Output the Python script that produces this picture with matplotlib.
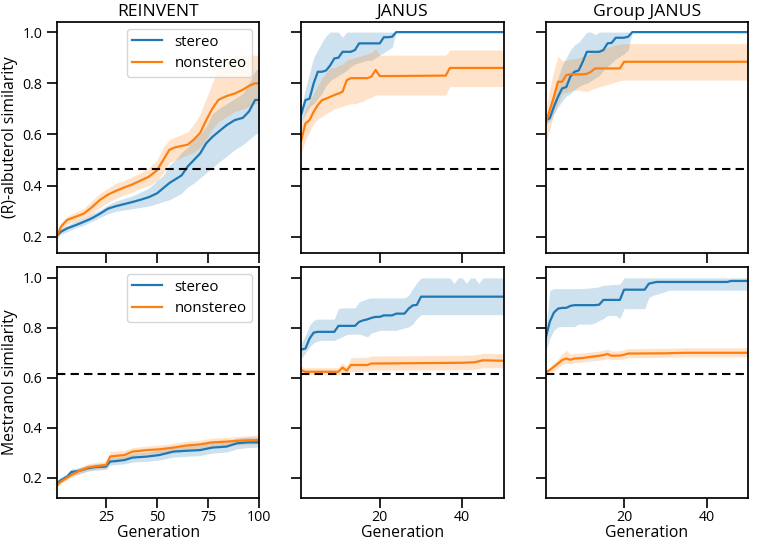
import numpy as np
import matplotlib.pyplot as plt

plt.rcParams['font.family'] = ['Open Sans', 'DejaVu Sans']

# ---- REINVENT, (R)-albuterol ----
rv_alb_gen = [1, 3, 6, 10, 14, 18, 22, 26, 30, 34, 38, 42, 46, 50, 53, 56, 59, 62, 65, 68,
              71, 74, 77, 80, 84, 88, 92, 95, 98, 100]
rv_alb_st = [0.205, 0.22, 0.233, 0.245, 0.258, 0.272, 0.29, 0.31, 0.32, 0.328, 0.336, 0.345, 0.355, 0.37,
             0.39, 0.41, 0.425, 0.44, 0.475, 0.5, 0.525, 0.565, 0.59, 0.61, 0.636, 0.656, 0.665, 0.69, 0.735, 0.735]
rv_alb_st_lo = [0.195, 0.21, 0.22, 0.235, 0.245, 0.26, 0.275, 0.29, 0.3, 0.305, 0.31, 0.315, 0.32, 0.33,
                0.338, 0.345, 0.357, 0.37, 0.395, 0.41, 0.43, 0.45, 0.47, 0.49, 0.515, 0.54, 0.56, 0.58, 0.6, 0.61]
rv_alb_st_hi = [0.215, 0.232, 0.245, 0.26, 0.272, 0.29, 0.305, 0.325, 0.34, 0.35, 0.36, 0.375, 0.39, 0.42,
                0.44, 0.48, 0.5, 0.53, 0.55, 0.58, 0.6, 0.63, 0.68, 0.7, 0.72, 0.74, 0.76, 0.8, 0.85, 0.86]
rv_alb_ns = [0.205, 0.24, 0.266, 0.278, 0.29, 0.315, 0.344, 0.365, 0.38, 0.393, 0.405, 0.42, 0.435, 0.46,
             0.5, 0.54, 0.55, 0.555, 0.56, 0.58, 0.605, 0.655, 0.7, 0.735, 0.75, 0.76, 0.775, 0.79, 0.8, 0.8]
rv_alb_ns_lo = [0.195, 0.225, 0.25, 0.26, 0.27, 0.29, 0.315, 0.335, 0.35, 0.365, 0.375, 0.39, 0.4, 0.42,
                0.45, 0.49, 0.5, 0.51, 0.52, 0.53, 0.55, 0.58, 0.62, 0.65, 0.67, 0.69, 0.7, 0.71, 0.72, 0.72]
rv_alb_ns_hi = [0.215, 0.255, 0.28, 0.295, 0.31, 0.34, 0.37, 0.39, 0.41, 0.42, 0.435, 0.45, 0.47, 0.5,
                0.55, 0.58, 0.59, 0.6, 0.61, 0.64, 0.68, 0.74, 0.8, 0.86, 0.89, 0.91, 0.91, 0.91, 0.91, 0.91]

# ---- JANUS, (R)-albuterol ----
ja_alb_st_gen = list(range(1, 25)) + [50]
ja_alb_st = [0.68, 0.734, 0.74, 0.8, 0.845, 0.845, 0.85, 0.87, 0.897, 0.9, 0.923, 0.923, 0.923, 0.93,
             0.956, 0.956, 0.956, 0.956, 0.956, 0.956, 0.98, 0.98, 0.982, 1.0, 1.0]
ja_alb_st_lo = [0.65, 0.68, 0.708, 0.72, 0.74, 0.76, 0.79, 0.81, 0.82, 0.83, 0.84, 0.85, 0.865, 0.875,
                0.88, 0.885, 0.89, 0.89, 0.9, 0.91, 0.92, 0.93, 0.94, 1.0, 1.0]
ja_alb_st_hi = [0.7, 0.78, 0.84, 0.9, 0.93, 0.96, 0.985, 1.0, 1.0, 1.0, 0.98, 1.0, 1.0, 1.0,
                1.0, 1.0, 1.0, 1.0, 1.0, 1.0, 1.0, 1.0, 1.0, 1.0, 1.0]
ja_alb_ns_gen = list(range(1, 21)) + [36, 37, 50]
ja_alb_ns = [0.578, 0.643, 0.656, 0.689, 0.715, 0.734, 0.74, 0.747, 0.754, 0.76, 0.767, 0.812, 0.82, 0.82,
             0.82, 0.82, 0.82, 0.826, 0.852, 0.828, 0.83, 0.86, 0.86]
ja_alb_ns_lo = [0.526, 0.578, 0.61, 0.643, 0.66, 0.67, 0.68, 0.69, 0.7, 0.705, 0.71, 0.715, 0.72, 0.72,
                0.725, 0.73, 0.74, 0.745, 0.754, 0.754, 0.754, 0.787, 0.787]
ja_alb_ns_hi = [0.64, 0.7, 0.73, 0.76, 0.79, 0.82, 0.84, 0.86, 0.86, 0.87, 0.875, 0.89, 0.895, 0.9,
                0.905, 0.91, 0.915, 0.92, 0.935, 0.91, 0.91, 0.93, 0.93]

# ---- Group JANUS, (R)-albuterol ----
gj_alb_st_gen = list(range(1, 23)) + [50]
gj_alb_st = [0.656, 0.663, 0.708, 0.747, 0.78, 0.785, 0.826, 0.845, 0.85, 0.884, 0.923, 0.923, 0.923,
             0.923, 0.93, 0.956, 0.958, 0.978, 0.978, 0.978, 0.982, 1.0, 1.0]
gj_alb_st_lo = [0.64, 0.65, 0.68, 0.708, 0.73, 0.75, 0.76, 0.775, 0.787, 0.795, 0.8, 0.81, 0.82, 0.83,
                0.85, 0.865, 0.88, 0.895, 0.905, 0.915, 0.93, 1.0, 1.0]
gj_alb_st_hi = [0.67, 0.69, 0.76, 0.82, 0.87, 0.9, 0.93, 0.95, 0.96, 0.98, 1.0, 1.0, 0.99, 1.0,
                1.0, 1.0, 1.0, 1.0, 1.0, 1.0, 1.0, 1.0, 1.0]
gj_alb_ns_gen = list(range(1, 21)) + [50]
gj_alb_ns = [0.643, 0.695, 0.747, 0.806, 0.806, 0.832, 0.835, 0.835, 0.835, 0.835, 0.837, 0.845, 0.858,
             0.858, 0.858, 0.858, 0.858, 0.858, 0.858, 0.884, 0.884]
gj_alb_ns_lo = [0.565, 0.62, 0.68, 0.72, 0.76, 0.765, 0.77, 0.773, 0.773, 0.77, 0.768, 0.775, 0.78,
                0.787, 0.79, 0.795, 0.8, 0.805, 0.81, 0.8125, 0.8125]
gj_alb_ns_hi = [0.69, 0.78, 0.85, 0.905, 0.89, 0.89, 0.895, 0.895, 0.9, 0.905, 0.91, 0.92, 0.925,
                0.93, 0.935, 0.94, 0.945, 0.95, 0.952, 0.955, 0.955]

# ---- REINVENT, mestranol ----
rv_mes_gen = [1, 3, 6, 8, 12, 16, 20, 25, 27, 30, 34, 38, 45, 51, 58, 64, 71, 77, 84, 89, 94, 100]
rv_mes_st = [0.177, 0.19, 0.204, 0.222, 0.227, 0.237, 0.242, 0.244, 0.264, 0.266, 0.27, 0.28, 0.284,
             0.29, 0.304, 0.307, 0.31, 0.32, 0.324, 0.337, 0.341, 0.341]
rv_mes_st_lo = [0.165, 0.18, 0.195, 0.21, 0.215, 0.225, 0.23, 0.232, 0.25, 0.252, 0.255, 0.262, 0.265,
                0.27, 0.282, 0.285, 0.288, 0.298, 0.302, 0.315, 0.32, 0.322]
rv_mes_st_hi = [0.19, 0.2, 0.215, 0.235, 0.24, 0.25, 0.255, 0.258, 0.28, 0.282, 0.286, 0.297, 0.302,
                0.31, 0.325, 0.33, 0.333, 0.342, 0.346, 0.358, 0.362, 0.362]
rv_mes_ns = [0.17, 0.184, 0.2, 0.21, 0.227, 0.24, 0.245, 0.25, 0.284, 0.287, 0.29, 0.304, 0.31,
             0.313, 0.32, 0.328, 0.333, 0.341, 0.344, 0.347, 0.349, 0.35]
rv_mes_ns_lo = [0.16, 0.175, 0.19, 0.2, 0.215, 0.228, 0.232, 0.238, 0.265, 0.27, 0.274, 0.288, 0.294,
                0.297, 0.304, 0.312, 0.317, 0.325, 0.328, 0.331, 0.333, 0.334]
rv_mes_ns_hi = [0.18, 0.195, 0.21, 0.222, 0.24, 0.255, 0.26, 0.265, 0.305, 0.306, 0.308, 0.32, 0.326,
                0.33, 0.336, 0.345, 0.35, 0.358, 0.361, 0.364, 0.367, 0.372]

# ---- JANUS, mestranol ----
ja_mes_st_gen = list(range(1, 31)) + [37, 38, 39, 40, 41, 42, 43, 44, 45, 50]
ja_mes_st = [0.713, 0.717, 0.757, 0.781, 0.784, 0.784, 0.784, 0.784, 0.784, 0.808, 0.808, 0.808, 0.808,
             0.808, 0.824, 0.83, 0.834, 0.84, 0.844, 0.844, 0.85, 0.85, 0.85, 0.857, 0.857, 0.857, 0.877,
             0.89, 0.892, 0.925] + [0.925] * 10
ja_mes_st_lo = [0.677, 0.7, 0.724, 0.74, 0.747, 0.75, 0.75, 0.75, 0.75, 0.757, 0.765, 0.773, 0.775,
                0.775, 0.775, 0.77, 0.764, 0.78, 0.784, 0.79, 0.79, 0.79, 0.79, 0.79, 0.795, 0.8, 0.804,
                0.815, 0.837, 0.853] + [0.853] * 10
ja_mes_st_hi = [0.737, 0.77, 0.81, 0.83, 0.835, 0.835, 0.835, 0.835, 0.835, 0.877, 0.88, 0.88, 0.88,
                0.88, 0.904, 0.91, 0.917, 0.92, 0.92, 0.92, 0.92, 0.92, 0.92, 0.92, 0.92, 0.92, 0.93,
                0.957, 0.98, 1.0, 1.0, 0.978, 1.0, 1.0, 0.978, 1.0, 1.0, 0.978, 1.0, 1.0]
ja_mes_ns_gen = [1, 2, 10, 11, 12, 13, 17, 18, 40, 43, 45, 50]
ja_mes_ns = [0.63, 0.624, 0.624, 0.641, 0.628, 0.651, 0.651, 0.657, 0.66, 0.662, 0.67, 0.668]
ja_mes_ns_lo = [0.615, 0.612, 0.612, 0.62, 0.618, 0.625, 0.626, 0.63, 0.632, 0.634, 0.64, 0.64]
ja_mes_ns_hi = [0.645, 0.64, 0.64, 0.66, 0.645, 0.68, 0.682, 0.687, 0.69, 0.692, 0.698, 0.697]

# ---- Group JANUS, mestranol ----
gj_mes_st_gen = [1, 2, 3, 4, 5, 6, 7, 8, 9, 12, 13, 14, 15, 16, 18, 19, 20, 25, 26, 27, 28, 30, 31, 45, 46, 50]
gj_mes_st = [0.757, 0.824, 0.861, 0.877, 0.88, 0.88, 0.888, 0.891, 0.891, 0.891, 0.891, 0.893, 0.912,
             0.912, 0.912, 0.912, 0.953, 0.953, 0.977, 0.981, 0.984, 0.984, 0.984, 0.984, 0.988, 0.988]
gj_mes_st_lo = [0.704, 0.757, 0.79, 0.804, 0.805, 0.805, 0.805, 0.805, 0.815, 0.815, 0.82, 0.83, 0.837,
                0.85, 0.85, 0.837, 0.877, 0.877, 0.92, 0.931, 0.935, 0.945, 0.951, 0.951, 0.951, 0.951]
gj_mes_st_hi = [0.78, 0.95, 0.957, 0.957, 0.957, 0.957, 0.957, 0.957, 0.957, 0.96, 0.962, 0.965, 0.971,
                0.972, 0.974, 0.975, 1.0, 1.0, 1.0, 1.0, 1.0, 1.0, 1.0, 1.0, 1.0, 1.0]
gj_mes_ns_gen = [1, 2, 3, 4, 5, 6, 7, 8, 10, 12, 14, 15, 16, 17, 19, 20, 21, 30, 35, 50]
gj_mes_ns = [0.621, 0.631, 0.644, 0.657, 0.671, 0.677, 0.672, 0.677, 0.679, 0.684, 0.688, 0.691, 0.695,
             0.688, 0.689, 0.692, 0.697, 0.698, 0.70, 0.70]
gj_mes_ns_lo = [0.615, 0.62, 0.628, 0.64, 0.652, 0.658, 0.655, 0.66, 0.663, 0.667, 0.67, 0.673, 0.677,
                0.672, 0.673, 0.676, 0.68, 0.682, 0.684, 0.684]
gj_mes_ns_hi = [0.628, 0.642, 0.66, 0.675, 0.695, 0.71, 0.695, 0.698, 0.7, 0.703, 0.707, 0.71, 0.715,
                0.707, 0.708, 0.712, 0.717, 0.718, 0.72, 0.72]

titles = ['REINVENT', 'JANUS', 'Group JANUS']
row_labels = ['(R)-albuterol similarity', 'Mestranol similarity']
thresholds = [0.465, 0.616]
row_ylims = [(0.137, 1.040), (0.118, 1.044)]

panels = [
    [((rv_alb_gen, rv_alb_st, rv_alb_st_lo, rv_alb_st_hi), (rv_alb_gen, rv_alb_ns, rv_alb_ns_lo, rv_alb_ns_hi)),
     ((ja_alb_st_gen, ja_alb_st, ja_alb_st_lo, ja_alb_st_hi), (ja_alb_ns_gen, ja_alb_ns, ja_alb_ns_lo, ja_alb_ns_hi)),
     ((gj_alb_st_gen, gj_alb_st, gj_alb_st_lo, gj_alb_st_hi), (gj_alb_ns_gen, gj_alb_ns, gj_alb_ns_lo, gj_alb_ns_hi))],
    [((rv_mes_gen, rv_mes_st, rv_mes_st_lo, rv_mes_st_hi), (rv_mes_gen, rv_mes_ns, rv_mes_ns_lo, rv_mes_ns_hi)),
     ((ja_mes_st_gen, ja_mes_st, ja_mes_st_lo, ja_mes_st_hi), (ja_mes_ns_gen, ja_mes_ns, ja_mes_ns_lo, ja_mes_ns_hi)),
     ((gj_mes_st_gen, gj_mes_st, gj_mes_st_lo, gj_mes_st_hi), (gj_mes_ns_gen, gj_mes_ns, gj_mes_ns_lo, gj_mes_ns_hi))],
]

colors = ['#1f77b4', '#ff7f0e']
names = ['stereo', 'nonstereo']

fig, axes = plt.subplots(2, 3, figsize=(7.6, 5.47), dpi=100, sharex='col')
fig.subplots_adjust(left=0.075, right=0.984, top=0.96, bottom=0.0896, wspace=0.208, hspace=0.061)

for r in range(2):
    for c in range(3):
        ax = axes[r, c]
        for k, (g, m, lo, hi) in enumerate(panels[r][c]):
            ax.fill_between(g, lo, hi, color=colors[k], alpha=0.22, lw=0)
            ax.plot(g, m, color=colors[k], lw=1.6, label=names[k])
        ax.axhline(thresholds[r], color='black', ls='--', lw=1.5, dashes=(4, 2.5))
        ax.set_ylim(row_ylims[r])
        ax.set_yticks([0.2, 0.4, 0.6, 0.8, 1.0])
        if c == 0:
            ax.set_xlim(1, 100)
            ax.set_xticks([25, 50, 75, 100])
            ax.set_ylabel(row_labels[r], fontsize=11.3, labelpad=3)
            ax.legend(loc='upper right', fontsize=10.8, framealpha=0.8, borderpad=0.35,
                      handlelength=2.0, handletextpad=0.8, labelspacing=0.45)
        else:
            ax.set_xlim(1, 50)
            ax.set_xticks([20, 40])
            ax.set_yticklabels([])
        if r == 0:
            ax.set_title(titles[c], fontsize=12.6, pad=4)
        else:
            ax.set_xlabel('Generation', fontsize=11.3, labelpad=0)
        ax.tick_params(direction='out', length=7, width=1.2, labelsize=10.2)
        ax.tick_params(axis='x', pad=1.5)
        for s in ax.spines.values():
            s.set_linewidth(1.25)

fig.savefig('out.png', dpi=100)
